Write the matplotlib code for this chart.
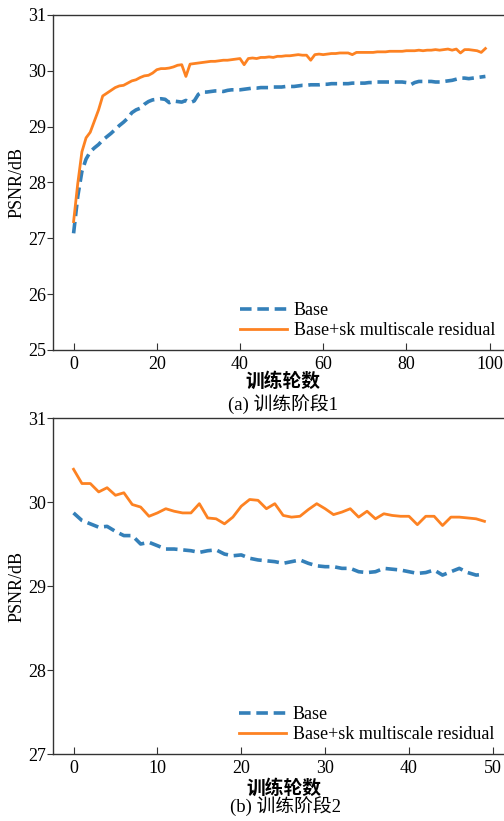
"""PSNR vs training epoch for two training stages (Base vs Base+sk multiscale residual)."""
import matplotlib
matplotlib.use("Agg")
import matplotlib.pyplot as plt
import numpy as np

plt.rcParams["font.family"] = ["Liberation Serif", "Noto Sans CJK SC"]
plt.rcParams["axes.unicode_minus"] = False

# stage 1: epochs 0..99
stage1_base = [
    27.09, 27.75, 28.20, 28.42, 28.55, 28.62, 28.68, 28.76, 28.82, 28.88,
    28.95, 29.02, 29.08, 29.15, 29.25, 29.30, 29.33, 29.40, 29.45, 29.48,
    29.49, 29.50, 29.49, 29.43, 29.46, 29.45, 29.44, 29.47, 29.43, 29.46,
    29.58, 29.62, 29.62, 29.63, 29.64, 29.64, 29.63, 29.65, 29.66, 29.66,
    29.66, 29.67, 29.68, 29.69, 29.69, 29.70, 29.70, 29.70, 29.71, 29.71,
    29.71, 29.72, 29.72, 29.72, 29.73, 29.74, 29.74, 29.75, 29.75, 29.75,
    29.76, 29.76, 29.77, 29.77, 29.77, 29.77, 29.77, 29.78, 29.78, 29.78,
    29.78, 29.79, 29.79, 29.80, 29.80, 29.80, 29.80, 29.80, 29.80, 29.80,
    29.79, 29.75, 29.79, 29.81, 29.81, 29.81, 29.81, 29.80, 29.80, 29.81,
    29.82, 29.83, 29.85, 29.87, 29.87, 29.86, 29.87, 29.88, 29.89, 29.90,
]
stage1_sk = [
    27.30, 27.98, 28.55, 28.80, 28.90, 29.10, 29.30, 29.55, 29.60, 29.65,
    29.70, 29.73, 29.74, 29.78, 29.82, 29.84, 29.88, 29.91, 29.92, 29.96,
    30.02, 30.04, 30.04, 30.05, 30.07, 30.10, 30.11, 29.90, 30.12, 30.13,
    30.14, 30.15, 30.16, 30.17, 30.17, 30.18, 30.19, 30.19, 30.20, 30.21,
    30.22, 30.11, 30.22, 30.23, 30.22, 30.24, 30.24, 30.25, 30.24, 30.26,
    30.26, 30.27, 30.27, 30.28, 30.29, 30.28, 30.28, 30.19, 30.29, 30.30,
    30.29, 30.30, 30.31, 30.31, 30.32, 30.32, 30.32, 30.29, 30.33, 30.33,
    30.33, 30.33, 30.33, 30.34, 30.34, 30.34, 30.35, 30.35, 30.35, 30.35,
    30.36, 30.36, 30.36, 30.37, 30.36, 30.37, 30.37, 30.38, 30.37, 30.38,
    30.39, 30.37, 30.39, 30.32, 30.38, 30.38, 30.37, 30.36, 30.33, 30.40,
]

# stage 2: epochs 0..49
stage2_base = [
    29.87, 29.78, 29.74, 29.70, 29.71, 29.65, 29.60, 29.60, 29.50, 29.52,
    29.48, 29.44, 29.44, 29.43, 29.42, 29.40, 29.42, 29.43, 29.38, 29.36,
    29.37, 29.33, 29.31, 29.30, 29.29, 29.27, 29.29, 29.31, 29.27, 29.24,
    29.23, 29.23, 29.21, 29.21, 29.17, 29.16, 29.17, 29.21, 29.20, 29.19,
    29.17, 29.15, 29.16, 29.19, 29.13, 29.17, 29.21, 29.16, 29.13, 29.14,
]
stage2_sk = [
    30.39, 30.22, 30.22, 30.12, 30.17, 30.08, 30.11, 29.97, 29.94, 29.83,
    29.87, 29.92, 29.89, 29.87, 29.87, 29.98, 29.81, 29.80, 29.74, 29.82,
    29.95, 30.03, 30.02, 29.92, 29.98, 29.84, 29.82, 29.83, 29.91, 29.98,
    29.92, 29.85, 29.88, 29.92, 29.82, 29.89, 29.80, 29.86, 29.84, 29.83,
    29.83, 29.73, 29.83, 29.83, 29.72, 29.82, 29.82, 29.81, 29.80, 29.77,
]

LABELS = ["Base", "Base+sk multiscale residual"]
BLUE = "#3480b9"
ORANGE = "#fd8222"
CJK = ["Noto Sans CJK SC", "Liberation Serif"]
FS = 13


def draw(ax, base, sk, ylim, yticks, xticks):
    x = np.arange(len(base))
    ax.plot(x, base, "--", color=BLUE, linewidth=2.6, dashes=(3.2, 1.6), label=LABELS[0])
    ax.plot(x, sk, "-", color=ORANGE, linewidth=2.0, label=LABELS[1])
    ax.set_ylim(*ylim)
    ax.set_yticks(yticks)
    ax.set_xticks(xticks)
    ax.tick_params(axis="x", direction="in", length=5, labelsize=FS, pad=4, color="#333333")
    ax.tick_params(axis="y", direction="out", length=4, labelsize=FS, pad=1, color="#333333")
    for s in ax.spines.values():
        s.set_color("#333333")
        s.set_linewidth(1.0)
    ax.set_ylabel("PSNR/dB", fontsize=FS, labelpad=2)
    ax.legend(loc="lower right", frameon=False, fontsize=FS, handlelength=2.6,
              handletextpad=0.4, labelspacing=0.15, borderaxespad=0.2,
              bbox_to_anchor=(1.0, 0.0))


fig = plt.figure(figsize=(5.04, 8.21), dpi=100)
W = 504
H = 821
ax1 = fig.add_axes([53 / W, 1 - 350 / H, 453 / W, 335 / H])
ax2 = fig.add_axes([53 / W, 1 - 754 / H, 452 / W, 336 / H])

draw(ax1, stage1_base, stage1_sk, (25, 31), range(25, 32), range(0, 101, 20))
draw(ax2, stage2_base, stage2_sk, (27, 31), range(27, 32), range(0, 51, 10))

fig.text(283 / W, 1 - 381 / H, "训练轮数", family=CJK, fontsize=13.5,
         ha="center", va="center", weight="bold")
fig.text(283 / W, 1 - 404 / H, "(a) 训练阶段1", family=["Liberation Serif", "Noto Sans CJK SC"],
         fontsize=13.5, ha="center", va="center")
fig.text(284 / W, 1 - 788 / H, "训练轮数", family=CJK, fontsize=13.5,
         ha="center", va="center", weight="bold")
fig.text(286 / W, 1 - 806 / H, "(b) 训练阶段2", family=["Liberation Serif", "Noto Sans CJK SC"],
         fontsize=13.5, ha="center", va="center")

fig.savefig("out.png", dpi=100)
